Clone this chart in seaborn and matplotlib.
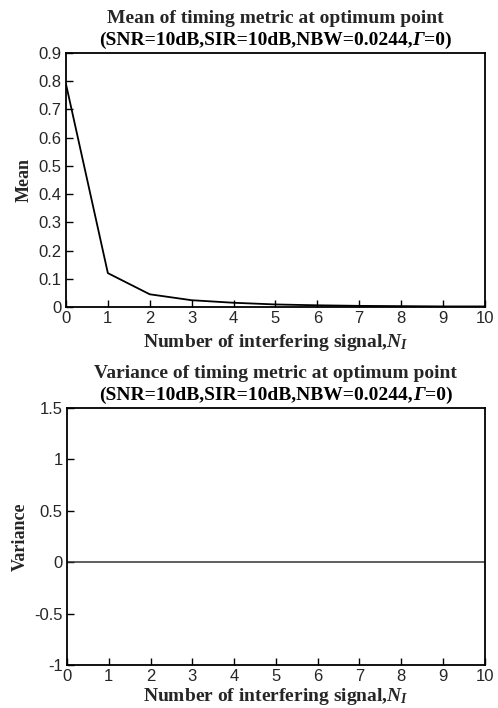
import numpy as np
import pandas as pd
import seaborn as sns
import matplotlib
matplotlib.use("Agg")
import matplotlib.pyplot as plt
from matplotlib.offsetbox import TextArea, HPacker, AnchoredOffsetbox

# Data
n_interf = [0, 1, 2, 3, 4, 5, 6, 7, 8, 9, 10]
mean_vals = [0.79, 0.12, 0.045, 0.024, 0.015, 0.009, 0.006, 0.004, 0.003, 0.002, 0.002]
var_vals = [0, 0, 0, 0, 0, 0, 0, 0, 0, 0, 0]

title_top = "Mean of timing metric at optimum point"
title_bot = "Variance of timing metric at optimum point"
subtitle_parts = ["(SNR=10dB,SIR=10dB,NBW=0.0244,", "Γ", "=0)"]
xlabel = "Number of interfering signal,$\\mathit{N}_\\mathit{I}$"

sns.set_style("ticks")
plt.rcParams["font.family"] = ["Liberation Sans", "DejaVu Sans"]
plt.rcParams["mathtext.fontset"] = "custom"
plt.rcParams["mathtext.it"] = "Liberation Serif:italic:bold"
plt.rcParams["mathtext.rm"] = "Liberation Serif:bold"
plt.rcParams["mathtext.bf"] = "Liberation Serif:bold"
plt.rcParams["xtick.direction"] = "in"
plt.rcParams["ytick.direction"] = "in"

df_mean = pd.DataFrame({"x": n_interf, "y": mean_vals})
df_var = pd.DataFrame({"x": n_interf, "y": var_vals})

fig = plt.figure(figsize=(4.98, 7.08), dpi=100)
ax1 = fig.add_axes([0.1325, 0.5664, 0.841, 0.3587])
ax2 = fig.add_axes([0.1345, 0.0607, 0.839, 0.363])

sns.lineplot(data=df_mean, x="x", y="y", ax=ax1, color="black", linewidth=1.3)
sns.lineplot(data=df_var, x="x", y="y", ax=ax2, color="#333333", linewidth=1.1)

serif_fam = ["Liberation Serif", "DejaVu Serif"]
serif = dict(family=serif_fam, weight="bold")
TFS = 14

for ax, ttl, ylab, ylim, yt, ytl, xlp in [
    (ax1, title_top, "Mean", (0, 0.9), np.arange(0, 0.91, 0.1),
     ["0", "0.1", "0.2", "0.3", "0.4", "0.5", "0.6", "0.7", "0.8", "0.9"], 4),
    (ax2, title_bot, "Variance", (-1, 1.5), np.arange(-1, 1.51, 0.5),
     ["-1", "-0.5", "0", "0.5", "1", "1.5"], 1.5),
]:
    ax.set_xlim(0, 10)
    ax.set_ylim(*ylim)
    ax.set_xticks(range(0, 11))
    ax.set_yticks(yt)
    ax.set_yticklabels(ytl)
    ax.tick_params(labelsize=12, length=5, width=1, color="black", pad=3,
                   top=False, right=False)
    for s in ax.spines.values():
        s.set_linewidth(1.3)
        s.set_color("black")
        s.set_visible(True)
    ax.set_title(ttl, fontsize=TFS, pad=21.5, **serif)
    # second title line with italic Gamma
    parts = []
    for i, p in enumerate(subtitle_parts):
        props = dict(fontsize=TFS, fontweight="bold", family=serif_fam, color="black")
        if i == 1:
            props["fontstyle"] = "italic"
        parts.append(TextArea(p, textprops=props))
    pack = HPacker(children=parts, pad=0, sep=0, align="baseline")
    h_ax = ax.get_position().height * fig.get_figheight() * fig.dpi
    ab = AnchoredOffsetbox(loc="lower center", child=pack, pad=0, borderpad=0,
                           frameon=False, bbox_to_anchor=(0.5, 1 + 4.0 / h_ax),
                           bbox_transform=ax.transAxes)
    ax.add_artist(ab)
    ax.set_xlabel(xlabel, fontsize=14, labelpad=xlp, **serif)
    ax.set_ylabel(ylab, fontsize=13, labelpad=4, **serif)

fig.savefig("out.png", dpi=100)
